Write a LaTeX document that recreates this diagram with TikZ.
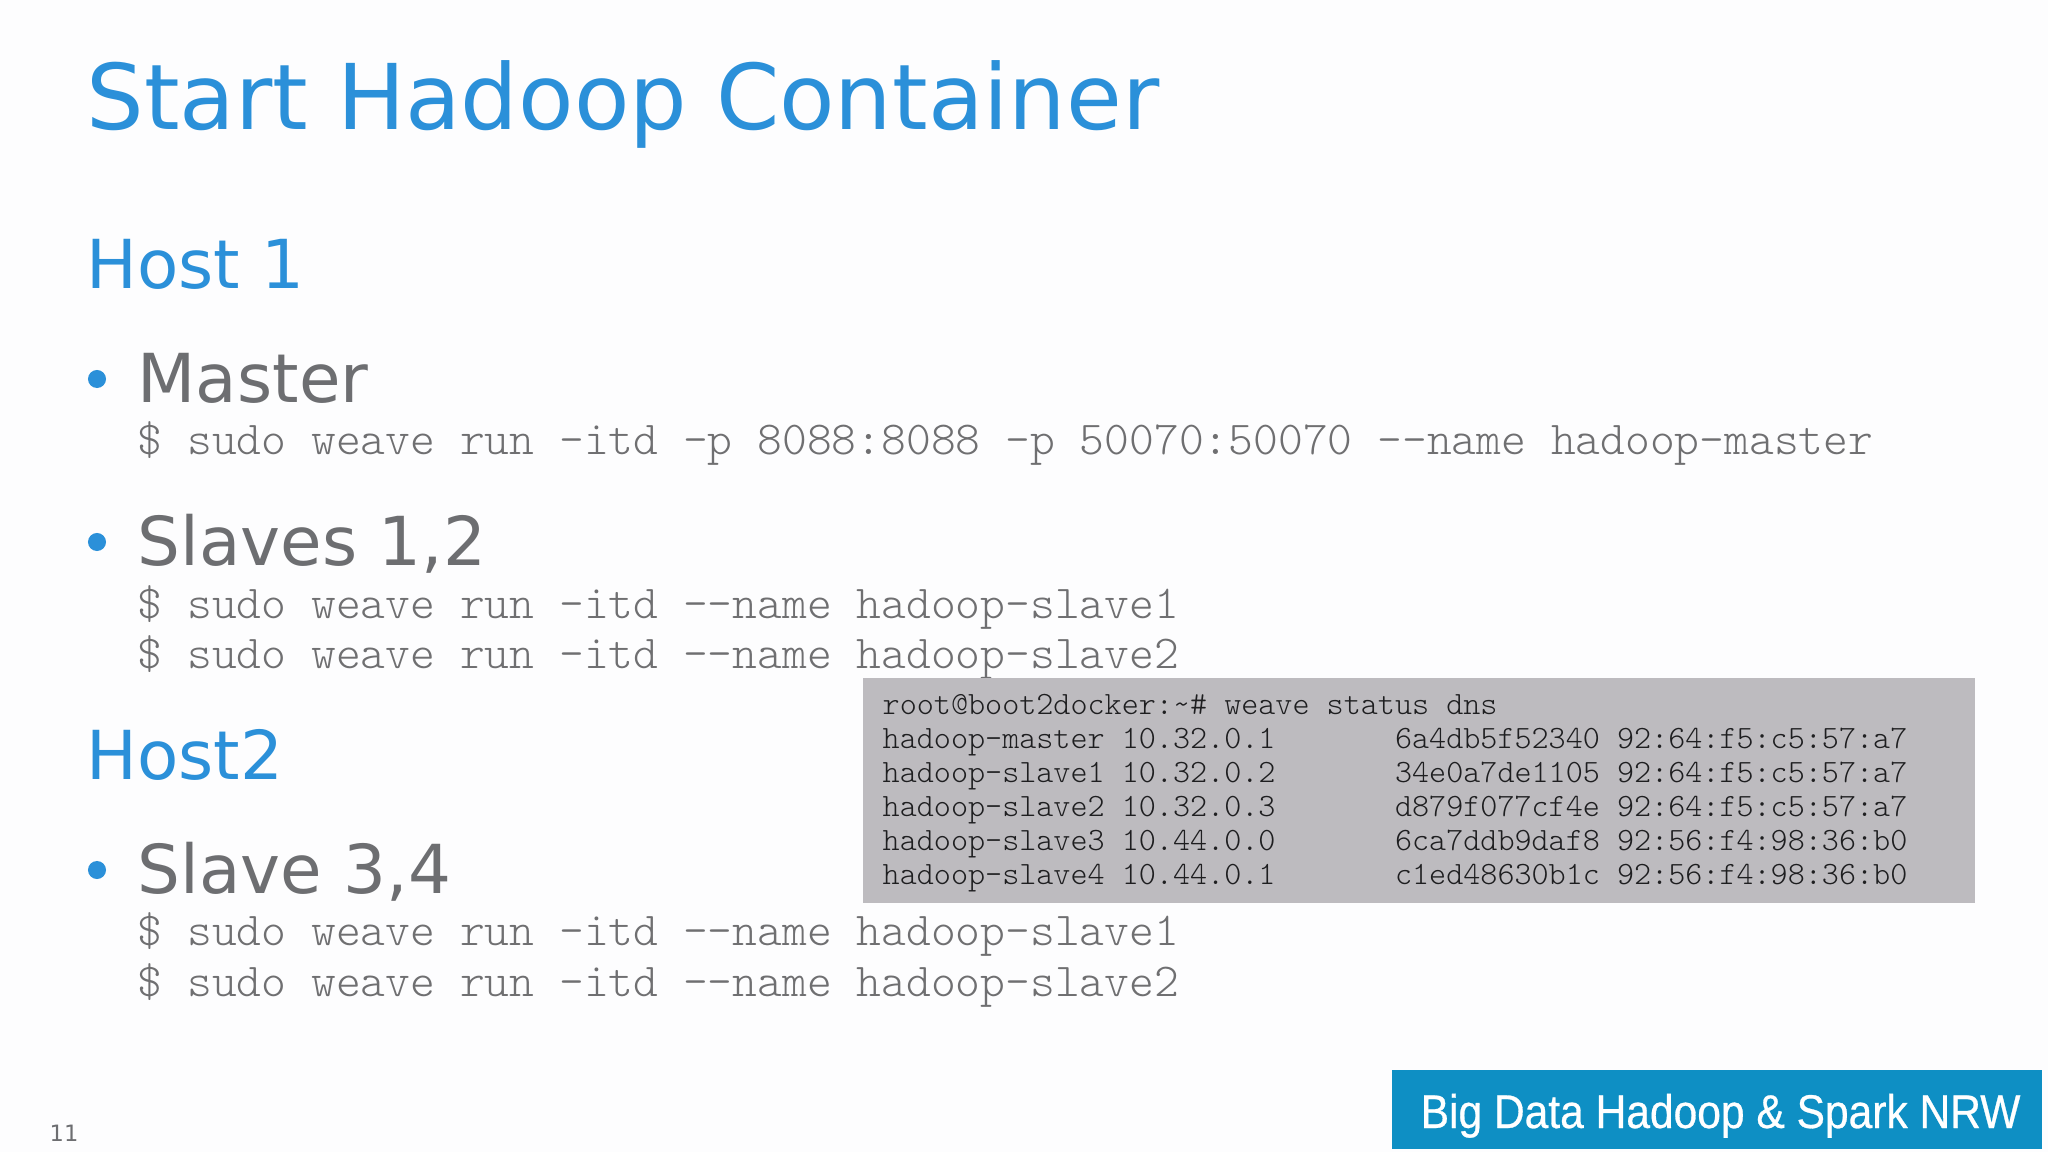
\documentclass[tikz,border=0pt]{standalone}
\usepackage{fontspec}
\setmainfont{DejaVu Sans}
\newfontfamily\bannerfont[FakeStretch=0.9,FakeBold=0.6]{Liberation Sans}
\newfontfamily\codefont{Latin Modern Mono Light}
\definecolor{slideblue}{HTML}{2B90D9}
\definecolor{itemgrey}{HTML}{6D6E71}
\definecolor{cmdgrey}{HTML}{6F6F71}
\definecolor{boxgrey}{HTML}{BDBBBF}
\definecolor{boxtext}{HTML}{1E1E20}
\definecolor{bannerblue}{HTML}{0E8FC4}
\definecolor{pagegrey}{HTML}{FDFDFE}
\begin{document}
\begin{tikzpicture}[x=0.01cm,y=-0.01cm]
\tikzstyle{every node}+=[inner sep=0pt,anchor=base west]
\tikzstyle{titlenode}=[text=slideblue,font=\fontsize{25.8}{30}\selectfont]
\tikzstyle{hostnode}=[text=slideblue,font=\fontsize{19.2}{23}\selectfont]
\tikzstyle{itemnode}=[text=itemgrey,font=\fontsize{19.2}{23}\selectfont]
\tikzstyle{cmdnode}=[text=cmdgrey,font=\codefont\fontsize{13.43}{16}\selectfont]
\tikzstyle{statnode}=[text=boxtext,font=\codefont\fontsize{9.25}{11}\selectfont]
\tikzstyle{dotnode}=[circle,fill=slideblue,minimum size=0.18cm,anchor=center]
\useasboundingbox (0,0) rectangle (2048,1152);
\fill [pagegrey] (0,0) rectangle (2048,1152);
\node [titlenode] (title) at (86,130) {Start Hadoop Container};
\node [hostnode] (hostA) at (86,289) {Host 1};
\node [dotnode] (dotA) at (97,379) {};
\node [itemnode] (master) at (137,403) {Master};
\node [cmdnode] (cmdA) at (137,455) {\$ sudo weave run -itd -p 8088:8088 -p 50070:50070 --name hadoop-master};
\node [dotnode] (dotB) at (97,542) {};
\node [itemnode] (slavesA) at (137,566) {Slaves 1,2};
\node [cmdnode] (cmdB) at (137,618) {\$ sudo weave run -itd --name hadoop-slave1};
\node [cmdnode] (cmdC) at (137,668) {\$ sudo weave run -itd --name hadoop-slave2};
\node [hostnode] (hostB) at (86,779) {Host2};
\node [dotnode] (dotC) at (97,870) {};
\node [itemnode] (slavesB) at (137,893) {Slave 3,4};
\node [cmdnode] (cmdD) at (137,945) {\$ sudo weave run -itd --name hadoop-slave1};
\node [cmdnode] (cmdE) at (137,996) {\$ sudo weave run -itd --name hadoop-slave2};
% status table
\fill [boxgrey] (863,678) rectangle (1975,903);
\node [statnode] (stat0) at (882,714) {root@boot2docker:\textasciitilde\# weave status dns};
\node [statnode] (stat1) at (882,748) {hadoop-master 10.32.0.1~~~~~~~6a4db5f52340 92:64:f5:c5:57:a7};
\node [statnode] (stat2) at (882,782) {hadoop-slave1 10.32.0.2~~~~~~~34e0a7de1105 92:64:f5:c5:57:a7};
\node [statnode] (stat3) at (882,816) {hadoop-slave2 10.32.0.3~~~~~~~d879f077cf4e 92:64:f5:c5:57:a7};
\node [statnode] (stat4) at (882,850) {hadoop-slave3 10.44.0.0~~~~~~~6ca7ddb9daf8 92:56:f4:98:36:b0};
\node [statnode] (stat5) at (882,884) {hadoop-slave4 10.44.0.1~~~~~~~c1ed48630b1c 92:56:f4:98:36:b0};
% banner and page number
\fill [bannerblue] (1392,1070) rectangle (2042,1149);
\node [text=white,font=\bannerfont\fontsize{13.44}{17}\selectfont] (banner) at (1420,1128) {Big Data Hadoop \& Spark NRW};
\node [text=itemgrey,font=\fontsize{6.4}{8}\selectfont] (pagenum) at (49,1141) {11};
\end{tikzpicture}
\end{document}
